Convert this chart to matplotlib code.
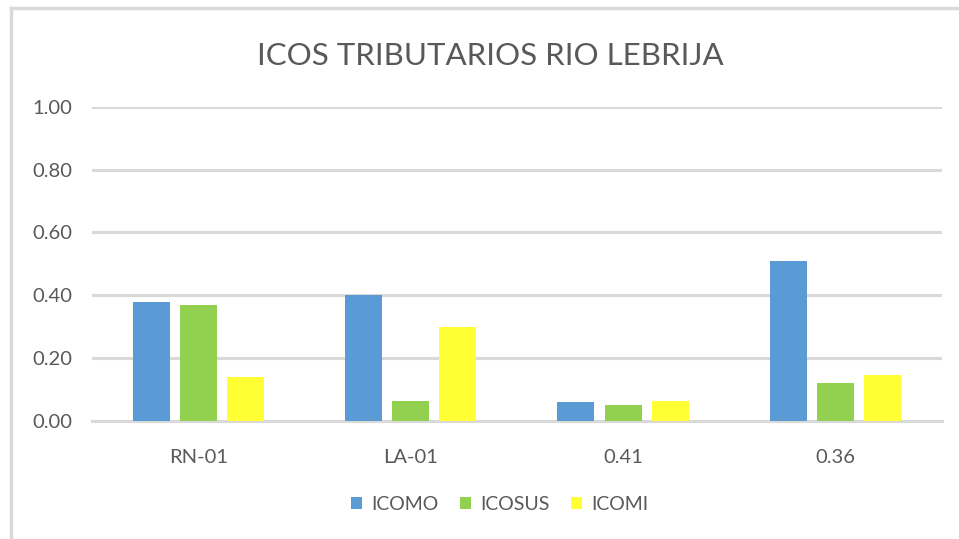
import numpy as np
import matplotlib
matplotlib.use("Agg")
import matplotlib.pyplot as plt
from matplotlib.lines import Line2D

# data
categories = ["RN-01", "LA-01", "0.41", "0.36"]
icomo = [0.38, 0.40, 0.06, 0.51]
icosus = [0.37, 0.065, 0.05, 0.12]
icomi = [0.14, 0.30, 0.065, 0.145]
series_names = ["ICOMO", "ICOSUS", "ICOMI"]
y_ticks = [0.0, 0.2, 0.4, 0.6, 0.8, 1.0]

colors = ["#5b9bd5", "#92d050", "#ffff33"]
text_color = "#595959"
grid_color = "#d9d9d9"

plt.rcParams["font.family"] = ["Lato", "DejaVu Sans"]

fig = plt.figure(figsize=(9.59, 5.39), dpi=100)
ax = fig.add_axes([0.096, 0.219, 0.886, 0.583])

x = np.arange(len(categories))
width = 0.174
step = 0.222
for i, (vals, name) in enumerate(zip([icomo, icosus, icomi], series_names)):
    ax.bar(x + (i - 1) * step, vals, width, color=colors[i], label=name, zorder=3)

ax.set_xlim(-0.5, len(categories) - 0.5)
ax.set_ylim(0, 1.0)
ax.set_yticks(y_ticks)
ax.set_yticklabels([f"{v:.2f}" for v in y_ticks])
ax.set_xticks(x)
ax.set_xticklabels(categories)
ax.tick_params(axis="both", length=0, labelsize=14.5, colors=text_color)
ax.tick_params(axis="x", pad=20)
ax.tick_params(axis="y", pad=14)
ax.yaxis.grid(True, color=grid_color, linewidth=2.2, zorder=0)
ax.set_axisbelow(True)
for s in ["top", "right", "left"]:
    ax.spines[s].set_visible(False)
ax.spines["bottom"].set_color(grid_color)
ax.spines["bottom"].set_linewidth(2.2)

fig.text(0.511, 0.897, "ICOS TRIBUTARIOS RIO LEBRIJA", ha="center", va="center",
         fontsize=22.5, color=text_color)

ax.legend(loc="center", bbox_to_anchor=(0.48, -0.265), ncol=3, frameon=False,
          fontsize=14, labelcolor=text_color, handlelength=0.55, handleheight=0.55,
          handletextpad=0.5, columnspacing=1.1)

# outer chart frame (only top and left edge visible)
fig.add_artist(Line2D([0.011, 1.0], [0.985, 0.985], transform=fig.transFigure,
                      color="#d9d9d9", linewidth=2.5))
fig.add_artist(Line2D([0.011, 0.011], [0.0, 0.985], transform=fig.transFigure,
                      color="#d9d9d9", linewidth=2.5))

fig.savefig("out.png", dpi=100)
